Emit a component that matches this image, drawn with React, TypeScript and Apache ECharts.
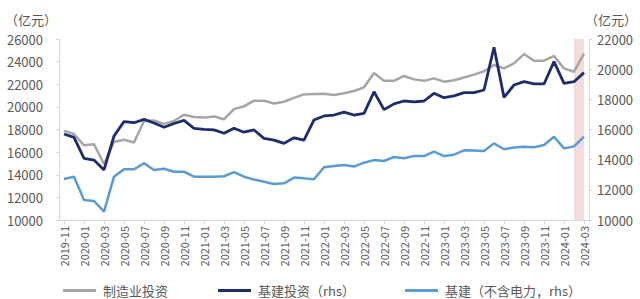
import React, { useEffect, useRef } from "react";
import * as echarts from "echarts";

const months: string[] = [];
for (let y = 2019, m = 11; y < 2024 || (y === 2024 && m <= 3); ) {
  months.push(`${y}-${String(m).padStart(2, "0")}`);
  m++;
  if (m > 12) { m = 1; y++; }
}

const manufacturing = [
  17900, 17600, 16600, 16700, 14950, 16900, 17100, 16850, 18750, 18800,
  18500, 18750, 19300, 19100, 19050, 19150, 18900, 19800, 20050, 20550,
  20550, 20300, 20450, 20800, 21100, 21130, 21150, 21050, 21200, 21400,
  21730, 23000, 22300, 22300, 22730, 22430, 22300, 22520, 22230, 22350,
  22600, 22850, 23150, 23700, 23400, 23840, 24670, 24080, 24080, 24500,
  23400, 23110, 24700,
];

const infra = [
  15700, 15480, 14090, 13970, 13320, 15570, 16520, 16450, 16670, 16430,
  16150, 16400, 16600, 16080, 16010, 15970, 15750, 16080, 15820, 15970,
  15410, 15300, 15080, 15450, 15300, 16630, 16900, 16960, 17150, 16960,
  17070, 18500, 17320, 17700, 17890, 17830, 17890, 18400, 18110, 18230,
  18440, 18440, 18620, 21450, 18130, 18950, 19170, 19020, 19020, 20500,
  19060, 19170, 19770,
];

const infraExPower = [
  12720, 12870, 11330, 11260, 10550, 12870, 13360, 13360, 13760, 13310,
  13400, 13200, 13200, 12870, 12870, 12870, 12900, 13170, 12870, 12680,
  12540, 12390, 12430, 12810, 12760, 12700, 13500, 13580, 13640, 13540,
  13800, 13970, 13910, 14180, 14090, 14240, 14240, 14530, 14240, 14330,
  14620, 14600, 14580, 15080, 14690, 14800, 14860, 14820, 14970, 15520,
  14750, 14880, 15520,
];

const seriesNames = ["制造业投资", "基建投资（rhs）", "基建（不含电力，rhs）"];
const bandStart = "2024-02";
const bandEnd = "2024-03";

const FONT = "'Noto Sans CJK SC', 'Noto Sans', sans-serif";
const TEXT = "#595959";
const AXIS = "#D9D9D9";

export default function App() {
  const ref = useRef<HTMLDivElement>(null);
  useEffect(() => {
    if (!ref.current) return;
    const chart = echarts.init(ref.current, undefined, { renderer: "svg" });
    const plain = (v: number) => String(v);
    chart.setOption({
      animation: false,
      textStyle: { fontFamily: FONT },
      grid: { left: 59, right: 50, top: 39, bottom: 79, containLabel: false },
      legend: {
        data: seriesNames,
        left: 58,
        top: 279,
        itemWidth: 33,
        itemHeight: 3,
        itemGap: 50,
        icon: "rect",
        textStyle: { fontSize: 13, color: TEXT, fontFamily: FONT, padding: [0, 0, 0, 2] },
      },
      xAxis: {
        type: "category",
        data: months,
        boundaryGap: true,
        axisLine: { lineStyle: { color: AXIS } },
        axisTick: { show: true, interval: 1, alignWithLabel: true, length: 4, lineStyle: { color: AXIS } },
        axisLabel: { interval: 1, rotate: 90, fontSize: 11, color: TEXT, margin: 6, fontFamily: FONT },
        splitLine: { show: false },
      },
      yAxis: [
        {
          type: "value",
          min: 10000,
          max: 26000,
          interval: 2000,
          name: "（亿元）",
          nameLocation: "end",
          nameGap: 13,
          nameTextStyle: { fontSize: 13, color: TEXT, align: "right", verticalAlign: "bottom", padding: [0, 2, 0, 0] },
          axisLine: { show: true, lineStyle: { color: AXIS } },
          axisTick: { show: true, length: 3, lineStyle: { color: AXIS } },
          axisLabel: { fontSize: 13, color: TEXT, margin: 16, formatter: plain },
          splitLine: { show: false },
        },
        {
          type: "value",
          min: 10000,
          max: 22000,
          interval: 2000,
          name: "（亿元）",
          nameLocation: "end",
          nameGap: 13,
          nameTextStyle: { fontSize: 13, color: TEXT, align: "left", verticalAlign: "bottom", padding: [0, 0, 0, -4] },
          axisLine: { show: true, lineStyle: { color: AXIS } },
          axisTick: { show: true, length: 3, lineStyle: { color: AXIS } },
          axisLabel: { fontSize: 13, color: TEXT, margin: 8, formatter: plain },
          splitLine: { show: false },
        },
      ],
      series: [
        {
          name: seriesNames[0],
          type: "line",
          yAxisIndex: 0,
          data: manufacturing,
          symbol: "none",
          lineStyle: { color: "#A6A6A6", width: 2.5 },
          itemStyle: { color: "#A6A6A6" },
          z: 3,
          markArea: {
            silent: true,
            itemStyle: { color: "#F4DCDC" },
            data: [[{ xAxis: bandStart }, { xAxis: bandEnd }]],
          },
        },
        {
          name: seriesNames[1],
          type: "line",
          yAxisIndex: 1,
          data: infra,
          symbol: "none",
          lineStyle: { color: "#1F2C6B", width: 2.8 },
          itemStyle: { color: "#1F2C6B" },
          z: 4,
        },
        {
          name: seriesNames[2],
          type: "line",
          yAxisIndex: 1,
          data: infraExPower,
          symbol: "none",
          lineStyle: { color: "#5B9BD5", width: 2.5 },
          itemStyle: { color: "#5B9BD5" },
          z: 3,
        },
      ],
    });
    return () => chart.dispose();
  }, []);
  return <div ref={ref} style={{ width: 640, height: 299, position: "absolute", left: 0, top: 0 }} />;
}
